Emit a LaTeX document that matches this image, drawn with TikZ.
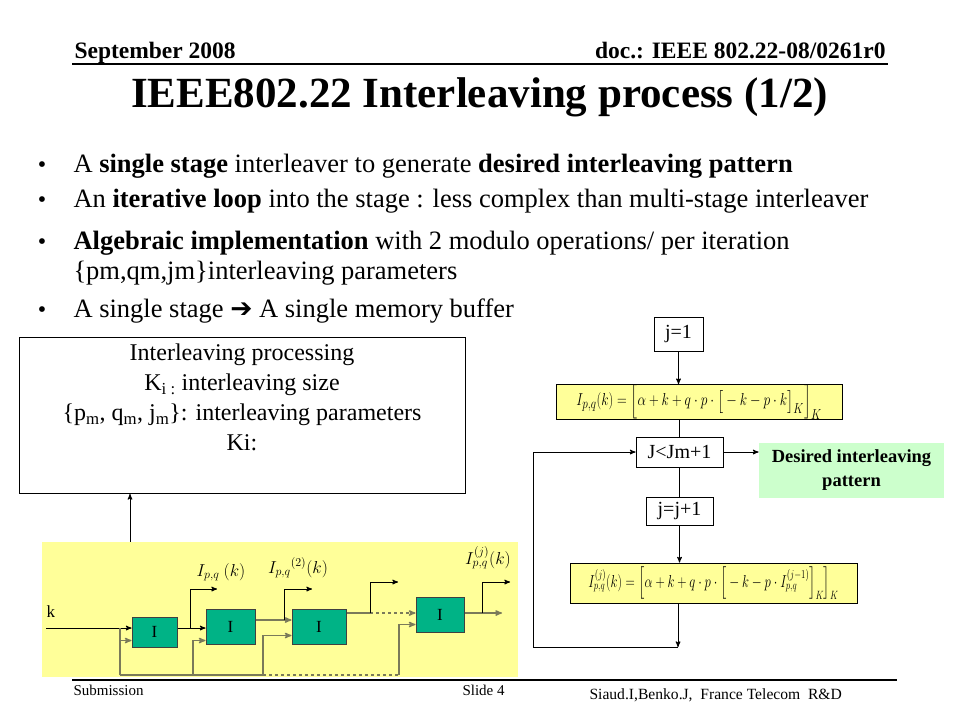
\documentclass[tikz,border=0pt]{standalone}
\usepackage{fontspec}
\usepackage{amsmath}
\usepackage{amssymb}
\setmainfont{Liberation Serif}
\newfontfamily\dingfont{DejaVu Sans}
\usepackage{tikz}
\usetikzlibrary{arrows}
\usetikzlibrary{calc}
\definecolor{stagebg}{HTML}{FFFF99}
\definecolor{iblock}{HTML}{00B386}
\definecolor{resultbg}{HTML}{CCFFCC}
\definecolor{wire}{HTML}{7A7A5A}
\newcommand{\fs}[1]{\fontsize{#1}{#1}\selectfont}

\begin{document}
\begin{tikzpicture}[x=1pt, y=-1pt, >=stealth', line width=1pt,
  flowbox/.style={draw=black, fill=white, inner sep=0pt, font=\fs{20}},
  formbox/.style={draw=black, fill=stagebg, inner sep=0pt},
  iblk/.style={draw=black!75, fill=iblock, inner sep=0pt, font=\fs{17}},
  wireline/.style={draw=wire, line width=1.3pt},
  bulletline/.style={anchor=base west, inner sep=0pt, font=\fs{26.5}}]
\useasboundingbox (0,0) rectangle (960,720);

% header and footer
\node[anchor=base west, inner sep=0pt, font=\fs{23.5}\bfseries] (date) at (74,58) {September 2008};
\node[anchor=base east, inner sep=0pt, font=\fs{23.5}\bfseries] (doc) at (886,58) {doc.: IEEE 802.22-08/0261r0};
\draw[line width=1.2pt] (72,64) -- (888,64);
\node[font=\fs{43}\bfseries] (title) at (479.5,97) {IEEE802.22 Interleaving process (1/2)};
\draw[line width=1.2pt] (72,680) -- (897,680);
\node[anchor=base west, inner sep=0pt, font=\fs{15}] (subm) at (73,695) {Submission};
\node[anchor=base west, inner sep=0pt, font=\fs{15}] (slide) at (462,695) {Slide 4};
\node[anchor=base west, inner sep=0pt, font=\fs{15.6}] (authors) at (589,699) {Siaud.I,Benko.J,\ \ France Telecom\ \ R\&D};

% bullets
\foreach \yb in {172,207,249,317} \node[anchor=base, inner sep=0pt, font=\fs{24}] at (42,\yb) {•};
\node[bulletline] (b1txt) at (73,172) {A \textbf{single stage} interleaver to generate \textbf{desired interleaving pattern}};
\node[bulletline] (b2txt) at (73,207) {An \textbf{iterative loop} into the stage : less complex than multi-stage interleaver};
\node[bulletline] (b3txt) at (73,249) {\textbf{Algebraic implementation} with 2 modulo operations/ per iteration};
\node[bulletline] (b3btxt) at (73,279) {\{pm,qm,jm\}interleaving parameters};
\node[bulletline] (b4txt) at (73,317) {A single stage {\dingfont\bfseries ➔} A single memory buffer};

% processing box
\node[draw=black, minimum width=446pt, minimum height=156pt, anchor=north] (proc) at (242,337) {};
\node[anchor=north, align=center, font=\fontsize{24}{30}\selectfont] (proctxt) at (242,340)
  {Interleaving processing\\ K\textsubscript{i :} interleaving size\\
   \{p\textsubscript{m}, q\textsubscript{m}, j\textsubscript{m}\}: interleaving parameters\\ Ki:};

% single stage with its loop
\node[fill=stagebg, minimum width=476pt, minimum height=135pt, inner sep=0pt] (stage) at (280,609.5) {};
\draw[->] ([xshift=-150pt]stage.north) -- ([xshift=-150pt]stage.north |- proc.south);
\node[iblk, minimum width=45pt, minimum height=30pt] (i1) at (154.5,632) {I};
\node[iblk, minimum width=49pt, minimum height=35pt] (i2) at (230.5,626.5) {I};
\node[iblk, minimum width=54pt, minimum height=35pt] (i3) at (319,626.5) {I};
\node[iblk, minimum width=48pt, minimum height=35pt] (i4) at (440,614.5) {I};
\node[anchor=base west, inner sep=0pt, font=\fs{17}] (klab) at (46,617) {k};
\coordinate (kin) at (46,628);
\draw[->] (kin) -- (kin -| i1.west);
\coordinate (fb1) at (120,675);
\coordinate (fb2) at (193,675);
\coordinate (fb3) at (263,675);
\coordinate (fb4) at (399,675);
\draw[wireline] (fb1) -- (fb3);
\draw[wireline, dashed] (fb3) -- (fb4);
\draw[wireline] (fb1) -- (fb1 |- kin);
\draw[wireline, ->] (fb1) |- ([yshift=7pt]i1.south west);
\draw[wireline, ->] (fb2) |- ([yshift=4pt]i2.south west);
\draw[wireline, ->] (fb3) |- ([yshift=9pt]i3.south west);
\draw[wireline, ->] (fb4) |- ([yshift=8pt]i4.south west);
% outputs
\draw[->] ([yshift=4pt]i1.east) -- ([yshift=4pt]i1.east -| i2.west);
\draw[wireline, ->] ([yshift=6.5pt]i2.east) -- ([yshift=6.5pt]i2.east -| i3.west);
\draw[wireline] ([yshift=13.5pt]i3.east) -- (370,613) coordinate (o3);
\draw[wireline, dashed, ->] (o3) -- (o3 -| i4.west);
\draw[wireline, ->] ([yshift=1.5pt]i4.east) -- (502,613);
\coordinate (o1) at (190,628);
\coordinate (o2) at (284,620);
\coordinate (o4) at (482,613);
\draw[->] (o1) |- ++(27,-39);
\draw[->] (o2) |- ++(28,-31);
\draw[->] (o3) |- ++(28,-31);
\draw[->] (o4) |- ++(28,-31);
\node[font=\fs{17}] (lab1) at (221,572) {$I_{p,q}\ (k)$};
\node[font=\fs{17}] (lab2) at (298,568) {$I_{p,q}{}^{(2)}(k)$};
\node[font=\fs{17}] (lab3) at (488,558) {$I^{(j)}_{p,q}(k)$};

% iteration flow
\node[flowbox, minimum width=49pt, minimum height=34pt] (jone) at (678.5,334) {j=1};
\node[formbox, minimum width=286pt, minimum height=26pt, font=\fs{19}] (form1) at (699,402)
  {\scalebox{0.78}[1]{$I_{p,q}(k)=\Big[\alpha+k+q\cdot p\cdot\big[-k-p\cdot k\big]_K\Big]_K$}};
\node[flowbox, minimum width=87pt, minimum height=30pt] (jtest) at (679.5,452) {J<Jm+1};
\node[fill=resultbg, minimum width=185pt, minimum height=55pt, align=center, font=\fontsize{18.5}{24}\selectfont\bfseries] (result) at (851.5,470.5)
  {Desired interleaving\\ pattern};
\node[flowbox, minimum width=67pt, minimum height=28pt] (jinc) at (679.5,511) {j=j+1};
\node[formbox, minimum width=287pt, minimum height=40pt, font=\fs{18}] (form2) at (713.5,583)
  {\scalebox{0.74}[1]{$I^{(j)}_{p,q}(k)=\Big[\alpha+k+q\cdot p\cdot\Big[-k-p\cdot I^{(j-1)}_{p,q}\Big]_K\Big]_K$}};
\coordinate (loopin) at (678,647);
\coordinate (loopcorner) at (533,647);
\draw[->] (jone.south) -- (jone.south |- form1.north);
\draw (jtest.north |- form1.south) -- (jtest.north);
\draw[->] (jtest.east) -- (jtest.east -| result.west);
\draw (jtest.south) -- (jinc.north);
\draw[->] (jinc.south) -- (jinc.south |- form2.north);
\draw[->] (loopin |- form2.south) -- (loopin);
\draw[->] (loopin) -- (loopcorner) |- (jtest.west);
\end{tikzpicture}
\end{document}
